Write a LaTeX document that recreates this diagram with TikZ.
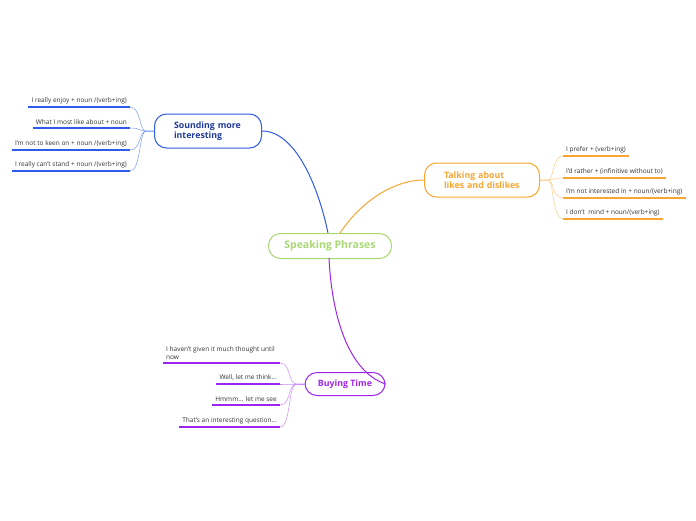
\documentclass[tikz,border=0pt]{standalone}
\usepackage{fontspec}
\setmainfont{Open Sans}
\definecolor{cgreen}{HTML}{A9D774}
\definecolor{cblue}{HTML}{2E5BEA}
\definecolor{cbluel}{HTML}{7E9CF2}
\definecolor{cbluet}{HTML}{1F3A9C}
\definecolor{corange}{HTML}{F8A531}
\definecolor{corangel}{HTML}{FBCB85}
\definecolor{cpurple}{HTML}{A024F0}
\definecolor{cpurplel}{HTML}{C98AF6}
\definecolor{ctext}{HTML}{333333}
\begin{document}
\begin{tikzpicture}[x=1pt,y=-1pt,
  topic/.style={draw, line width=1pt, rounded corners=12pt, font=\bfseries\fontsize{8.8}{10.5}\selectfont, align=left, inner sep=0pt},
  leafl/.style={anchor=south east, font=\fontsize{6.5}{7.8}\selectfont, text=ctext, inner xsep=3pt, inner ysep=3pt, align=right},
  leafr/.style={anchor=south west, font=\fontsize{6.5}{7.8}\selectfont, text=ctext, inner xsep=3pt, inner ysep=3pt, align=left},
  uline/.style={line width=1.3pt},
  branch/.style={line width=0.5pt},
  main/.style={line width=1pt}
]
\useasboundingbox (0,0) rectangle (696,520);

% central
\node[topic, draw=cgreen, text=cgreen, minimum width=123pt, minimum height=25pt, align=center, font=\bfseries\fontsize{10.5}{12}\selectfont] (c) at (330,246) {Speaking Phrases};

% blue topic
\node[topic, draw=cblue, text=cbluet, minimum width=107pt, minimum height=34pt, text width=68pt] (b) at (208,131) {Sounding more\\interesting};
% orange topic
\node[topic, draw=corange, text=corange, minimum width=115pt, minimum height=34pt, text width=76pt] (o) at (482,180) {Talking about\\likes and dislikes};
% purple topic
\node[topic, draw=cpurple, text=cpurple, minimum width=80pt, minimum height=23pt, align=center] (p) at (345,384) {Buying Time};

% main connectors
\coordinate (cb) at (328,233);
\coordinate (co) at (340,233);
\coordinate (cp) at (329,258);
\draw[main, cblue] (cb) .. controls (318,185) and (295,131) .. (b.east);
\draw[main, corange] (co) .. controls (362,200) and (395,180) .. (o.west);
\draw[main, cpurple] (cp) .. controls (332,320) and (350,372) .. (p.east);

% blue leaves
\node[leafl] (b1) at (130,107) {I really enjoy + noun /(verb+ing)};
\node[leafl] (b2) at (130,128) {What I most like about + noun};
\node[leafl] (b3) at (130,150) {I'm not to keen on + noun /(verb+ing)};
\node[leafl] (b4) at (130,171) {I really can't stand + noun /(verb+ing)};
\foreach \n in {b1,b2,b3,b4}{
  \draw[uline, cblue] (\n.south west) -- (\n.south east);
  \draw[branch, cbluel] (b.west) -- ++(-8,0) .. controls (139,131) and (141,0 |- \n.south east) .. (\n.south east);
}

% orange leaves
\node[leafr] (o1) at (563,156) {I prefer + (verb+ing)};
\node[leafr] (o2) at (563,178) {I'd rather + (infinitive without to)};
\node[leafr] (o3) at (563,198) {I'm not interested in + noun/(verb+ing)};
\node[leafr] (o4) at (563,219) {I don't\ \ mind + noun/(verb+ing)};
\foreach \n in {o1,o2,o3,o4}{
  \draw[uline, corange] (\n.south west) -- (\n.south east);
  \draw[branch, corangel] (o.east) -- ++(8,0) .. controls (554,180) and (552,0 |- \n.south west) .. (\n.south west);
}

% purple leaves
\node[leafr] (p1) at (163,363) {I haven't given it much thought until\\now};
\coordinate (p1e) at (280,363);
\node[leafl] (p2) at (280,384) {Well, let me think...};
\node[leafl] (p3) at (280,405) {Hmmm... let me see};
\node[leafl] (p4) at (280,427) {That's an interesting question...};
\draw[uline, cpurple] (p1.south west) -- (p1e);
\draw[branch, cpurplel] (p.west) -- ++(-8,0) .. controls (288,384) and (291,363) .. (p1e);
\foreach \n in {p2,p3,p4}{
  \draw[uline, cpurple] (\n.south west) -- (\n.south east);
  \draw[branch, cpurplel] (p.west) -- ++(-8,0) .. controls (288,384) and (291,0 |- \n.south east) .. (\n.south east);
}
\end{tikzpicture}
\end{document}
